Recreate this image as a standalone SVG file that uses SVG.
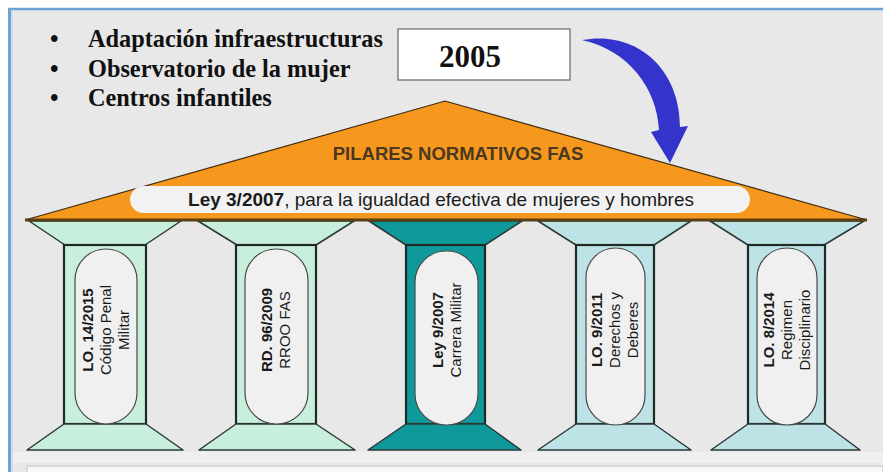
<svg xmlns="http://www.w3.org/2000/svg" width="883" height="472" viewBox="0 0 883 472">
<style>
.bul{font-family:"Liberation Serif","Times New Roman",serif;font-weight:bold;font-size:24.3px;fill:#111}
.cap{stroke:#2c3a36;stroke-width:1.5;stroke-linejoin:round}
.shaft{stroke:#1d2a26;stroke-width:2.2}
.mint{fill:#c8eedc}
.teal{fill:#10999a}
.blue{fill:#bde3e6}
.pill{fill:#f0f0f0;stroke:#4a4a4a;stroke-width:1.2}
.pt{font-family:"Liberation Sans",Arial,sans-serif;font-size:15px;fill:#1a1a1a;text-anchor:middle}
.pt .b{font-weight:bold}
</style>
<rect x="0" y="0" width="883" height="472" fill="#ffffff"/>
<rect x="10" y="9" width="873" height="463" fill="#e8e8e8"/>
<rect x="10" y="452" width="873" height="11" fill="#efefef"/>
<rect x="27" y="466" width="856" height="20" fill="#f8f8f8" stroke="#cfcfcf" stroke-width="1.5"/>
<line x1="8" y1="9" x2="883" y2="9" stroke="#6fa3d6" stroke-width="2.5"/>
<line x1="9.5" y1="8" x2="9.5" y2="472" stroke="#6fa3d6" stroke-width="3"/>
<line x1="12" y1="11" x2="12" y2="472" stroke="#c5daf0" stroke-width="1.5"/>

<g id="bullets">
  <text class="bul" x="50" y="47">•</text>
  <text class="bul" x="88" y="47">Adaptación infraestructuras</text>
  <text class="bul" x="50" y="77">•</text>
  <text class="bul" x="88" y="77">Observatorio de la mujer</text>
  <text class="bul" x="50" y="106">•</text>
  <text class="bul" x="88" y="106">Centros infantiles</text>
</g>

<g id="year">
  <rect x="398" y="29" width="172" height="51" fill="#ffffff" stroke="#666" stroke-width="1.2"/>
  <text x="470" y="67" text-anchor="middle" font-family="Liberation Serif,'Times New Roman',serif" font-weight="bold" font-size="31" fill="#111">2005</text>
</g>

<g id="columns">
  <g id="col1">
    <polygon class="cap mint" points="29,221 181,221 145,245 65,245"/>
    <rect class="shaft mint" x="64" y="245" width="82" height="179"/>
    <polygon class="cap mint" points="64,424 146,424 183,450 27,450"/>
    <rect class="pill" x="75" y="249" width="62" height="175" rx="31"/>
    <text class="pt" transform="translate(106,330) rotate(-90)"><tspan class="b" x="0" y="-13">LO. 14/2015</tspan><tspan x="0" y="5">Código Penal</tspan><tspan x="0" y="23">Militar</tspan></text>
  </g>
  <g id="col2">
    <polygon class="cap mint" points="198,221 354,221 316,245 237,245"/>
    <rect class="shaft mint" x="236" y="245" width="80" height="179"/>
    <polygon class="cap mint" points="236,424 316,424 355,450 199,450"/>
    <rect class="pill" x="245" y="249" width="63" height="175" rx="31"/>
    <text class="pt" transform="translate(276,330) rotate(-90)"><tspan class="b" x="0" y="-4">RD. 96/2009</tspan><tspan x="0" y="14">RROO FAS</tspan></text>
  </g>
  <g id="col3">
    <polygon class="cap teal" points="369,221 522,221 485,245 406,245"/>
    <rect class="shaft teal" x="406" y="245" width="79" height="179"/>
    <polygon class="cap teal" points="406,424 485,424 521,450 368,450"/>
    <rect class="pill" x="415" y="251" width="63" height="174" rx="31"/>
    <text class="pt" transform="translate(447,330) rotate(-90)"><tspan class="b" x="0" y="-4">Ley 9/2007</tspan><tspan x="0" y="14">Carrera Militar</tspan></text>
  </g>
  <g id="col4">
    <polygon class="cap blue" points="538,221 691,221 654,245 576,245"/>
    <rect class="shaft blue" x="576" y="245" width="78" height="179"/>
    <polygon class="cap blue" points="576,424 654,424 691,450 538,450"/>
    <rect class="pill" x="586" y="248" width="59" height="177" rx="29.5"/>
    <text class="pt" transform="translate(615,330) rotate(-90)"><tspan class="b" x="0" y="-13">LO. 9/2011</tspan><tspan x="0" y="5">Derechos y</tspan><tspan x="0" y="23">Deberes</tspan></text>
  </g>
  <g id="col5">
    <polygon class="cap blue" points="710,221 864,221 824,245 748,245"/>
    <rect class="shaft blue" x="748" y="245" width="77" height="179"/>
    <polygon class="cap blue" points="748,424 825,424 860,450 711,450"/>
    <rect class="pill" x="757" y="248" width="60" height="177" rx="30"/>
    <text class="pt" transform="translate(787,330) rotate(-90)"><tspan class="b" x="0" y="-13">LO. 8/2014</tspan><tspan x="0" y="5">Regimen</tspan><tspan x="0" y="23">Disciplinario</tspan></text>
  </g>
</g>

<g id="roof">
  <polygon points="25,220 445,101 867,220" fill="#f7981e" stroke="#3d2c12" stroke-width="1.2" stroke-linejoin="miter"/>
  <line x1="25" y1="220" x2="867" y2="220" stroke="#5a3f12" stroke-width="3"/>
  <text x="458" y="160" text-anchor="middle" font-family="Liberation Sans,Arial,sans-serif" font-weight="bold" font-size="18.5" fill="#4a3820">PILARES NORMATIVOS FAS</text>
  <rect x="130" y="186" width="620" height="27" rx="13.5" fill="#f2f2f2"/>
  <text x="441" y="206" text-anchor="middle" font-family="Liberation Sans,Arial,sans-serif" font-size="19" fill="#1a1a1a"><tspan font-weight="bold">Ley 3/2007</tspan>, para la igualdad efectiva de mujeres y hombres</text>
</g>

<g id="connectors">
  <path d="M582,40 C636,30 680,68 680,127 L688,126 L670,163 L651,132 L659,130 C657,88 628,50 582,40 Z" fill="#3434cc"/>
</g>
</svg>
